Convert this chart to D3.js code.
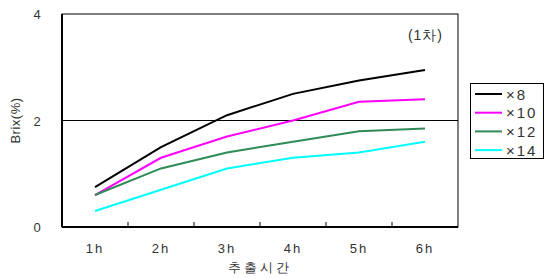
<!DOCTYPE html>
<html>
<head>
<meta charset="utf-8">
<script src="https://cdn.jsdelivr.net/npm/d3@7"></script>
<style>
  body { margin: 0; background: #fff; }
  text { font-family: "Liberation Sans", Arial, sans-serif; fill: #333; }
</style>
</head>
<body>
<svg id="chart" width="545" height="278"></svg>
<script>
var hours = ["1h", "2h", "3h", "4h", "5h", "6h"];
var seriesNames = ["×8", "×10", "×12", "×14"];
var seriesColors = ["#000000", "#ff00ff", "#2e8b57", "#00ffff"];
var x8 = [0.75, 1.5, 2.1, 2.5, 2.75, 2.95];
var x10 = [0.6, 1.3, 1.7, 2.0, 2.35, 2.4];
var x12 = [0.6, 1.1, 1.4, 1.6, 1.8, 1.85];
var x14 = [0.3, 0.7, 1.1, 1.3, 1.4, 1.6];
var yTicks = [0, 2, 4];

var series = [x8, x10, x12, x14];

var margin = {top: 14, right: 87, bottom: 51, left: 62},
    width = 545,
    height = 278,
    plotW = width - margin.left - margin.right,
    plotH = height - margin.top - margin.bottom;

var svg = d3.select("#chart");
var g = svg.append("g")
    .attr("transform", "translate(" + margin.left + "," + margin.top + ")");

var x = d3.scaleBand().domain(hours).range([0, plotW]);
var y = d3.scaleLinear().domain([0, 4]).range([plotH, 0]);

// gridline at 2
g.append("line")
    .attr("x1", 0).attr("x2", plotW)
    .attr("y1", y(2)).attr("y2", y(2))
    .attr("stroke", "#000").attr("stroke-width", 1);

// frame
g.append("rect")
    .attr("x", 0).attr("y", 0)
    .attr("width", plotW).attr("height", plotH)
    .attr("fill", "none").attr("stroke", "#000").attr("stroke-width", 1);
g.append("line").attr("x1", 0).attr("x2", 0).attr("y1", 0).attr("y2", plotH)
    .attr("stroke", "#000").attr("stroke-width", 2);
g.append("line").attr("x1", 0).attr("x2", plotW).attr("y1", plotH).attr("y2", plotH)
    .attr("stroke", "#000").attr("stroke-width", 2);

// x ticks between bands
g.selectAll(".xtick")
    .data(hours.slice(1))
    .enter().append("line")
    .attr("x1", function(d) { return x(d); })
    .attr("x2", function(d) { return x(d); })
    .attr("y1", plotH).attr("y2", plotH - 5)
    .attr("stroke", "#000").attr("stroke-width", 1);

g.selectAll(".xlab")
    .data(hours)
    .enter().append("text")
    .attr("x", function(d) { return x(d) + x.bandwidth() / 2; })
    .attr("y", plotH + 26)
    .attr("text-anchor", "middle")
    .attr("font-size", 13)
    .style("letter-spacing", "2px")
    .text(function(d) { return d; });

g.selectAll(".ylab")
    .data(yTicks)
    .enter().append("text")
    .attr("x", -25)
    .attr("y", function(d) { return y(d) + 5; })
    .attr("text-anchor", "middle")
    .attr("font-size", 13)
    .text(function(d) { return d; });

var line = d3.line()
    .x(function(d, i) { return x(hours[i]) + x.bandwidth() / 2; })
    .y(function(d) { return y(d); });

g.selectAll(".series")
    .data(series)
    .enter().append("path")
    .attr("d", line)
    .attr("fill", "none")
    .attr("stroke", function(d, i) { return seriesColors[i]; })
    .attr("stroke-width", 2);

g.append("text")
    .attr("x", plotW - 15)
    .attr("y", 26)
    .attr("text-anchor", "end")
    .attr("font-size", 14)
    .style("letter-spacing", "1px")
    .text("(1차)");

svg.append("text")
    .attr("transform", "translate(20," + (margin.top + plotH / 2) + ") rotate(-90)")
    .attr("text-anchor", "middle")
    .attr("font-size", 13)
    .style("letter-spacing", "0.5px")
    .text("Brix(%)");

svg.append("text")
    .attr("x", margin.left + plotW / 2)
    .attr("y", 272)
    .attr("text-anchor", "middle")
    .attr("font-size", 13)
    .style("letter-spacing", "3px")
    .text("추출시간");

// legend
var legend = svg.append("g").attr("transform", "translate(470,83)");
legend.append("rect")
    .attr("x", 0.5).attr("y", 0.5)
    .attr("width", 73).attr("height", 75)
    .attr("fill", "#fff").attr("stroke", "#000").attr("stroke-width", 1);
var items = legend.selectAll(".item")
    .data(seriesNames)
    .enter().append("g")
    .attr("transform", function(d, i) { return "translate(0," + (11 + i * 18.7) + ")"; });
items.append("line")
    .attr("x1", 5).attr("x2", 32)
    .attr("stroke", function(d, i) { return seriesColors[i]; })
    .attr("stroke-width", 2);
items.append("text")
    .attr("x", 36).attr("y", 5.5)
    .attr("font-size", 15)
    .style("letter-spacing", "2px")
    .text(function(d) { return d; });
</script>
</body>
</html>
